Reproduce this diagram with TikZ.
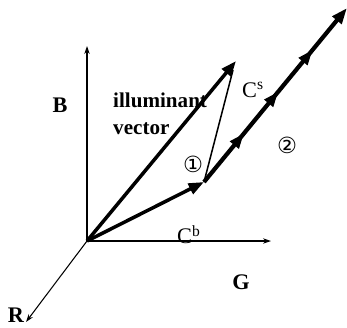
\documentclass[tikz,border=0pt]{standalone}
\usepackage{fontspec}
\setmainfont{Liberation Serif}
\newfontfamily\circfont{DejaVu Sans}
\usetikzlibrary{arrows.meta,decorations.markings}

\tikzset{
	axis/.style={line width=0.9pt, -{Stealth[length=2.4mm,width=1.6mm]}},
	vec/.style={line width=3pt, -{Triangle[length=4.6mm,width=3.4mm]}},
	shiftvec/.style={line width=3.6pt, -{Triangle[length=4.8mm,width=3.4mm]},
		postaction={decorate},
		decoration={markings,
			mark=at position 0.28 with {\arrow{Triangle[length=4.6mm,width=3.2mm]}},
			mark=at position 0.52 with {\arrow{Triangle[length=4.6mm,width=3.2mm]}},
			mark=at position 0.76 with {\arrow{Triangle[length=4.6mm,width=3.2mm]}}}},
	lbl/.style={font=\fontsize{19}{21}\selectfont\bfseries},
}

\begin{document}
\begin{tikzpicture}[x=0.03cm, y=-0.03cm, every node/.style={font=\fontsize{19}{21}\selectfont, inner sep=0pt}]
	\useasboundingbox (0,0) rectangle (347,327);
	% axes
	\coordinate (O) at (87,241);
	\coordinate (Bend) at (87,46);
	\coordinate (Gend) at (271,241);
	\coordinate (Rend) at (26,322);
	\draw[axis] (O) -- (Bend);
	\draw[axis] (O) -- (Gend);
	\draw[axis] (O) -- (Rend);
	% vectors
	\coordinate (Cb) at (204,182);
	\coordinate (Ill) at (236,61);
	\coordinate (Far) at (347,8);
	\draw[vec] (O) -- (Cb);
	\draw[vec] (O) -- (Ill);
	\draw[line width=1.3pt] (Cb) -- (233,70);
	\draw[shiftvec] (Cb) -- (Far);
	% labels
	\node[lbl] (B) at (60,105) {B};
	\node[lbl] (G) at (241,282) {G};
	\node[lbl] (R) at (16,315) {R};
	\node[lbl, anchor=west, align=left, font=\fontsize{18}{23}\selectfont\bfseries] (illum) at (113,114) {illuminant\\vector};
	\node[anchor=west] (Cs) at (242,90) {C\textsuperscript{s}};
	\node[anchor=west] (Cblbl) at (177,235) {C\textsuperscript{b}};
	\node[font=\fontsize{19}{19}\selectfont\circfont] (one) at (193,164) {①};
	\node[font=\fontsize{19}{19}\selectfont\circfont] (two) at (287,145) {②};
\end{tikzpicture}
\end{document}
